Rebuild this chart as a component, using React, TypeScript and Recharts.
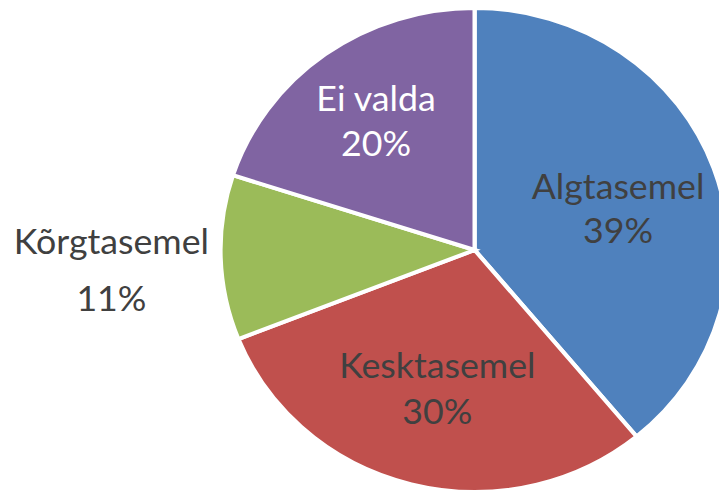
import { PieChart, Pie, Cell } from "recharts";

const levels = ["Algtasemel", "Kesktasemel", "Kõrgtasemel", "Ei valda"];
const shares = [39, 30, 11, 20];
const colors = ["#4F81BD", "#C0504D", "#9BBB59", "#8064A2"];

const data = levels.map((name, i) => ({ name, value: shares[i] }));

// label placement per slice: radius as a share of the outer radius, vertical nudge, line gap, text colour
const labelStyle: Record<string, { r: number; dy: number; gap: number; fill: string }> = {
  Algtasemel: { r: 0.6, dy: 7, gap: 44, fill: "#404040" },
  Kesktasemel: { r: 0.59, dy: 0, gap: 46, fill: "#404040" },
  "Kõrgtasemel": { r: 1.43, dy: 8, gap: 57, fill: "#404040" },
  "Ei valda": { r: 0.66, dy: 0, gap: 45, fill: "#ffffff" },
};

const RADIAN = Math.PI / 180;

function renderLabel(props: any) {
  const { cx, cy, midAngle, outerRadius, percent, name } = props;
  const s = labelStyle[name];
  const r = outerRadius * s.r;
  const x = cx + r * Math.cos(-midAngle * RADIAN);
  const y = cy + r * Math.sin(-midAngle * RADIAN) + s.dy;
  return (
    <text
      x={x}
      y={y}
      fill={s.fill}
      textAnchor="middle"
      fontFamily="Lato, 'Open Sans', sans-serif"
      fontSize={34}
    >
      <tspan x={x} y={y - s.gap / 2} dominantBaseline="central">
        {name}
      </tspan>
      <tspan x={x} y={y + s.gap / 2} dominantBaseline="central">
        {Math.round(percent * 100)}%
      </tspan>
    </text>
  );
}

export default function App() {
  return (
    <div
      style={{
        position: "absolute",
        left: 0,
        top: 0,
        width: 685,
        height: 495,
        background: "#fff",
        transform: "scaleX(1.05)",
        transformOrigin: "0 0",
      }}
    >
      <PieChart width={685} height={495} margin={{ top: 0, right: 0, bottom: 0, left: 0 }}>
        <Pie
          data={data}
          dataKey="value"
          nameKey="name"
          cx={452}
          cy={250}
          outerRadius={242}
          startAngle={90}
          endAngle={-270}
          stroke="#ffffff"
          strokeWidth={4}
          label={renderLabel}
          labelLine={false}
          isAnimationActive={false}
        >
          {data.map((d, i) => (
            <Cell key={d.name} fill={colors[i]} />
          ))}
        </Pie>
      </PieChart>
    </div>
  );
}
